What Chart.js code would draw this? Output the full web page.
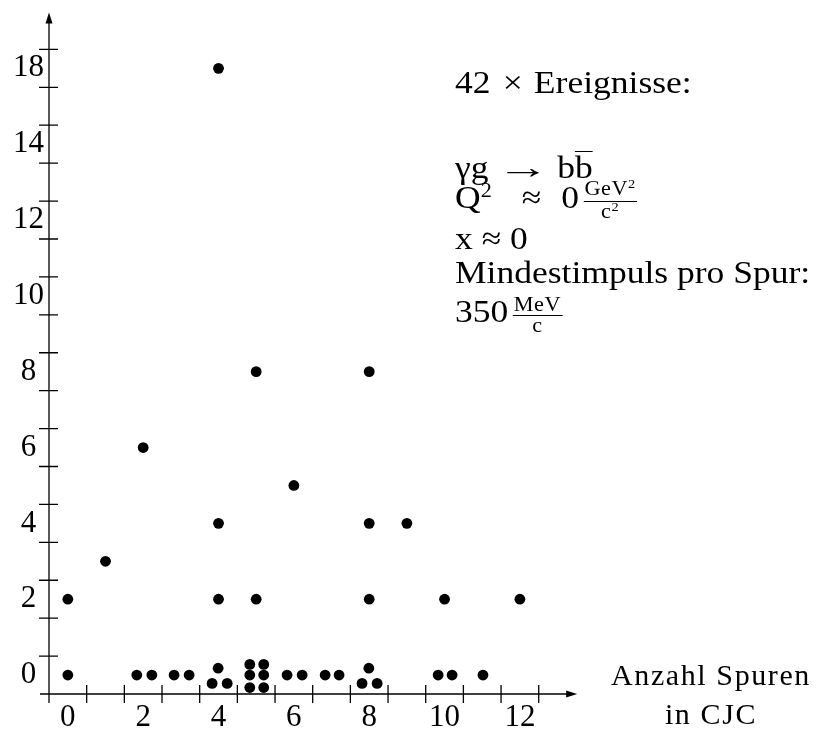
<!DOCTYPE html>
<html>
<head>
<meta charset="utf-8">
<script src="https://cdn.jsdelivr.net/npm/chart.js@4/dist/chart.umd.min.js"></script>
<style>
  html, body { margin: 0; padding: 0; background: #fff; }
  #wrap { position: relative; width: 818px; height: 731px; }
  .note {
    position: absolute;
    left: 455px;
    font-family: 'Liberation Serif', 'Times New Roman', serif;
    font-size: 32px;
    line-height: 32px;
    color: #000;
    white-space: nowrap;
    transform: scaleX(1.11);
    transform-origin: left center;
  }
  .sup { font-size: 20px; position: relative; top: -11px; }
  .arrow { display: inline-block; transform: scaleX(1.5); margin: 0 15px; }
  .bar { display: inline-block; line-height: 24px; padding-top: 3px; border-top: 1.3px solid #000; }
  .frac {
    display: inline-block;
    vertical-align: -10px;
    text-align: center;
    font-size: 20px;
    line-height: 17px;
    margin-left: 4px;
    letter-spacing: 0.5px;
  }
  .frac .num { display: block; border-bottom: 1.4px solid #000; padding: 0 1px 2px 1px; }
  .frac .den { display: block; padding-top: 1px; }
  .frac .sup { font-size: 13px; top: -7px; }
  #xtitle {
    position: absolute;
    left: 600px; top: 655px; width: 222px;
    text-align: center;
    font-family: 'Liberation Serif', 'Times New Roman', serif;
    font-size: 30px;
    line-height: 39px;
    letter-spacing: 1.6px;
  }
</style>
</head>
<body>
<div id="wrap">
  <canvas id="chart" width="818" height="731"></canvas>
  <div class="note" style="top:66px;">42<span style="margin:0 10px 0 11px;">×</span>Ereignisse:</div>
  <div class="note" style="top:151px;">γg<span class="arrow">→</span>b<span class="bar">b</span></div>
  <div class="note" style="top:180px;">Q<span class="sup">2</span><span style="margin:0 18px 0 27px;">≈</span>0<span class="frac"><span class="num">GeV<span class="sup">2</span></span><span class="den">c<span class="sup">2</span></span></span></div>
  <div class="note" style="top:222px;">x ≈ 0</div>
  <div class="note" style="top:256px;">Mindestimpuls pro Spur:</div>
  <div class="note" style="top:295px;">350<span class="frac"><span class="num">MeV</span><span class="den">c</span></span></div>
  <div id="xtitle">Anzahl Spuren<br>in CJC</div>
</div>
<script>
// events: number of tracks in the CJC (x) and the value on the vertical axis (y)
// the bottom row is spread out a little so that equal events stay visible
let eventX = [0, 1, 2, 4, 4, 4, 5, 5, 6, 8, 8, 8, 9, 10, 12,
    0, 1.83, 2.23, 2.82, 3.22, 3.99, 3.83, 4.23, 4.83, 5.2, 4.83, 5.2, 4.83, 5.2,
    5.82, 6.22, 6.83, 7.2, 7.99, 7.81, 8.21, 9.83, 10.2, 11.02];
let eventY = [2, 3, 6, 18, 4, 2, 8, 2, 5, 8, 4, 2, 4, 2, 2,
    0, 0, 0, 0, 0, 0.18, -0.22, -0.22, 0.28, 0.28, 0, 0, -0.33, -0.33,
    0, 0, 0, 0, 0.18, -0.22, -0.22, 0, 0, 0];

let xTickValues = [0, 2, 4, 6, 8, 10, 12];
let yTickValues = [0, 2, 4, 6, 8, 10, 12, 14, 18];
let yTickLabels = ['0', '2', '4', '6', '8', '10', '12', '14', '18'];
let xTickMarks = [0.5, 1.5, 2.5, 3.5, 4.5, 5.5, 6.5, 7.5, 8.5, 9.5, 10.5, 11.5, 12.5];
let yTickMarks = [0.5, 1.5, 2.5, 3.5, 4.5, 5.5, 6.5, 7.5, 8.5, 9.5, 10.5, 11.5, 12.5, 13.5, 14.5, 15.5, 16.5];

// the y axis is broken above 15: 18 sits where 16 would be
function toAxis(v) {
    return v > 15 ? v - 2 : v;
}

const serif = "'Liberation Serif', 'Times New Roman', serif";

const axisLines = {
    id: 'axisLines',
    afterDraw(chart) {
        const ctx = chart.ctx;
        const xs = chart.scales.x;
        const ys = chart.scales.y;
        const x0 = xs.getPixelForValue(-0.5);
        const y0 = ys.getPixelForValue(-0.5);
        const xEnd = xs.getPixelForValue(13.52);
        const yEnd = ys.getPixelForValue(17.47);
        ctx.save();
        ctx.strokeStyle = '#000';
        ctx.fillStyle = '#000';
        ctx.lineWidth = 1.3;
        ctx.beginPath();
        ctx.moveTo(xs.getPixelForValue(-0.74), y0);
        ctx.lineTo(xEnd - 4, y0);
        ctx.moveTo(x0, ys.getPixelForValue(-0.74));
        ctx.lineTo(x0, yEnd + 4);
        // tick marks cross the axes
        xTickMarks.forEach(v => {
            const px = xs.getPixelForValue(v);
            ctx.moveTo(px, y0 - 9);
            ctx.lineTo(px, y0 + 9);
        });
        yTickMarks.forEach(v => {
            const py = ys.getPixelForValue(v);
            ctx.moveTo(x0 - 10, py);
            ctx.lineTo(x0 + 9, py);
        });
        ctx.stroke();
        // arrow heads
        ctx.beginPath();
        ctx.moveTo(xEnd, y0);
        ctx.lineTo(xEnd - 11, y0 - 3.5);
        ctx.lineTo(xEnd - 11, y0 + 3.5);
        ctx.closePath();
        ctx.moveTo(x0, yEnd);
        ctx.lineTo(x0 - 3.5, yEnd + 11);
        ctx.lineTo(x0 + 3.5, yEnd + 11);
        ctx.closePath();
        ctx.fill();
        ctx.restore();
    }
};

let points = eventX.map((x, i) => ({x: x, y: toAxis(eventY[i])}));

new Chart(document.getElementById('chart'), {
    type: 'scatter',
    data: {
        datasets: [{
            data: points,
            backgroundColor: '#000',
            borderWidth: 0,
            pointRadius: 5.4,
            pointHoverRadius: 5.4
        }]
    },
    options: {
        responsive: false,
        animation: false,
        devicePixelRatio: 1,
        layout: {padding: 0},
        plugins: {
            legend: {display: false},
            tooltip: {enabled: false}
        },
        scales: {
            x: {
                type: 'linear',
                bounds: 'data',
                min: -0.5,
                max: 19.77,
                grid: {display: false, drawTicks: false, tickLength: 0},
                border: {display: false},
                afterFit: s => {
                    s.height = 37;
                    s.paddingLeft = 0;
                    s.paddingRight = 0;
                },
                afterBuildTicks: s => { s.ticks = xTickValues.map(v => ({value: v})); },
                ticks: {
                    autoSkip: false,
                    maxRotation: 0,
                    padding: 5,
                    color: '#000',
                    font: {family: serif, size: 31, lineHeight: 1.2}
                }
            },
            y: {
                type: 'linear',
                bounds: 'data',
                min: -0.5,
                max: 17.66,
                grid: {display: false, drawTicks: false, tickLength: 0},
                border: {display: false},
                afterFit: s => {
                    s.width = 49;
                    s.paddingTop = 0;
                    s.paddingBottom = 0;
                },
                afterBuildTicks: s => { s.ticks = yTickValues.map(v => ({value: toAxis(v)})); },
                ticks: {
                    autoSkip: false,
                    crossAlign: 'center',
                    padding: 5,
                    color: '#000',
                    font: {family: serif, size: 31},
                    callback: (value, i) => yTickLabels[i]
                }
            }
        }
    },
    plugins: [axisLines]
});
</script>
</body>
</html>
